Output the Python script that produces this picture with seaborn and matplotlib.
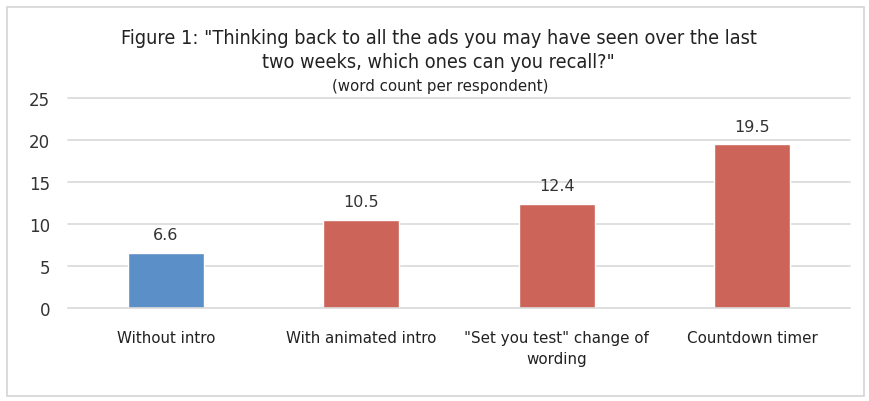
import matplotlib
matplotlib.use("Agg")
import matplotlib.pyplot as plt
import seaborn as sns
import pandas as pd
from matplotlib.patches import Rectangle
from matplotlib import font_manager

categories = ["Without intro", "With animated intro",
              "\"Set you test\" change of\nwording", "Countdown timer"]
values = [6.6, 10.5, 12.4, 19.5]
groups = ["base", "variant", "variant", "variant"]
yticks = [0, 5, 10, 15, 20, 25]

df = pd.DataFrame({"category": categories, "value": values, "group": groups})

sns.set_theme(style="white")
plt.rcParams["font.family"] = ["DejaVu Sans"]

# narrow regular face for the title
cond = [f for f in font_manager.fontManager.ttflist
        if f.name == "DejaVu Sans"
        and str(f.stretch) in ("condensed", "semi-condensed")
        and f.weight in (400, "normal", "regular", "book")
        and f.style == "normal"]
narrow_fp = (font_manager.FontProperties(fname=cond[0].fname) if cond
             else font_manager.FontProperties(family="DejaVu Sans"))


def narrow(size):
    fp = narrow_fp.copy()
    fp.set_size(size)
    return fp


fig = plt.figure(figsize=(8.69, 4.02), dpi=100)
fig.patch.set_facecolor("white")
ax = fig.add_axes([0.0783, 0.2313, 0.8997, 0.5224])

palette = {"base": "#5b8fc8", "variant": "#cd6459"}
sns.barplot(data=df, x="category", y="value", hue="group", palette=palette,
            dodge=False, width=0.39, legend=False, ax=ax, saturation=1)

ax.set_ylim(0, 25)
ax.set_yticks(yticks)
ax.set_yticklabels([str(t) for t in yticks], fontsize=12, color="#333333")
ax.set_xlim(-0.5, len(categories) - 0.5)
ax.set_xlabel("")
ax.set_ylabel("")
ax.set_xticks(range(len(categories)))
ax.set_xticklabels(categories, fontsize=10.9, color="#222222", linespacing=1.5)
ax.tick_params(axis="x", length=0, pad=16)
ax.tick_params(axis="y", length=0, pad=13)
for t in yticks[1:]:
    ax.axhline(t, color="#d9d9d9", lw=1.2, zorder=0, clip_on=False)
for s in ["top", "right", "left"]:
    ax.spines[s].set_visible(False)
ax.spines["bottom"].set_color("#d9d9d9")
ax.spines["bottom"].set_linewidth(1.2)
ax.set_axisbelow(True)

for i, v in enumerate(values):
    ax.annotate(f"{v}", (i, v), xytext=(0, 7.5), textcoords="offset points",
                ha="center", va="bottom", fontsize=11.5, color="#333333")

fig.text(0.505, 0.905,
         "Figure 1: \"Thinking back to all the ads you may have seen over the last",
         ha="center", va="center", fontproperties=narrow(14.2), color="#222222")
fig.text(0.505, 0.845, "two weeks, which ones can you recall?\"",
         ha="center", va="center", fontproperties=narrow(14.2), color="#222222")
fig.text(0.507, 0.785, "(word count per respondent)",
         ha="center", va="center", fontsize=10.8, color="#222222")

fig.add_artist(Rectangle((0.008, 0.012), 0.986, 0.968, transform=fig.transFigure,
                         fill=False, edgecolor="#d4d4d4", lw=1.2))

fig.savefig("out.png", dpi=100)
